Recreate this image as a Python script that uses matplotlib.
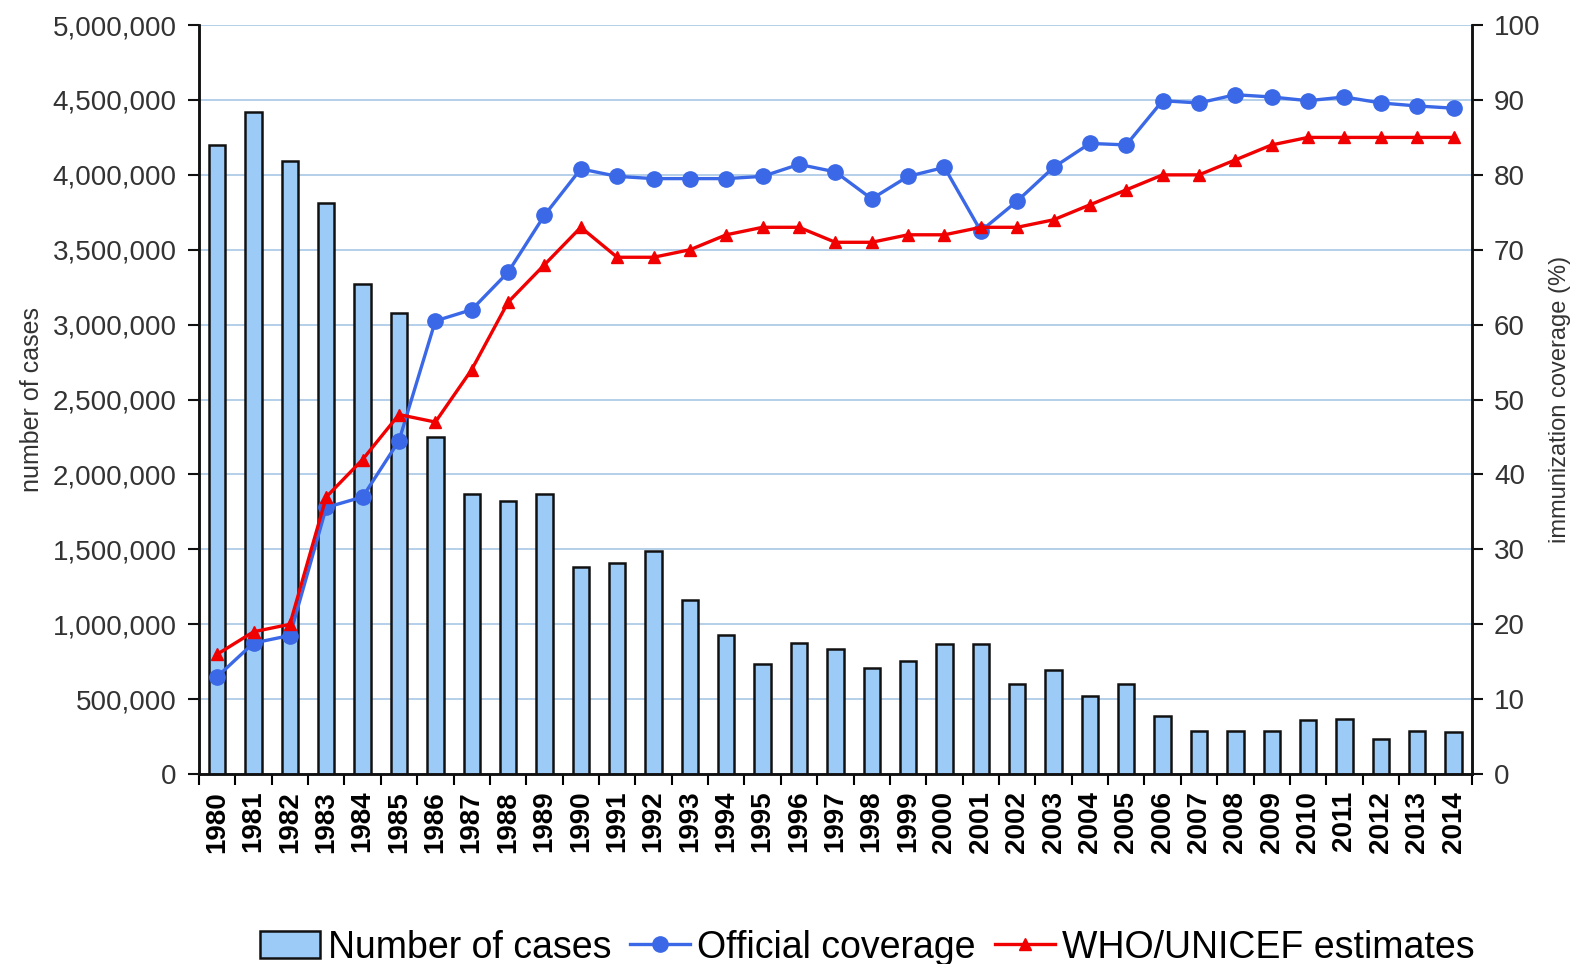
import matplotlib.pyplot as plt
from matplotlib.ticker import FuncFormatter, FixedLocator
import numpy as np

plt.rcParams['font.family'] = ['Liberation Sans', 'DejaVu Sans']

years = [str(y) for y in range(1980, 2015)]
cases = [4200000, 4420000, 4090000, 3810000, 3270000, 3080000, 2250000, 1870000,
         1820000, 1870000, 1380000, 1410000, 1490000, 1160000, 930000, 735000,
         877000, 837000, 708000, 756000, 870000, 870000, 600000, 695000, 520000,
         600000, 385000, 290000, 290000, 290000, 358000, 371000, 236000, 290000,
         280000]
official = [13, 17.5, 18.5, 35.6, 37, 44.5, 60.5, 62, 67, 74.6, 80.8, 79.8, 79.5,
            79.5, 79.5, 79.8, 81.4, 80.4, 76.8, 79.8, 81, 72.5, 76.5, 81, 84.2, 84,
            89.9, 89.6, 90.7, 90.4, 89.9, 90.4, 89.6, 89.2, 88.9]
who_unicef = [16, 19, 20, 37, 42, 48, 47, 54, 63, 68, 73, 69, 69, 70, 72, 73, 73,
              71, 71, 72, 72, 73, 73, 74, 76, 78, 80, 80, 82, 84, 85, 85, 85, 85, 85]

x = np.arange(len(years))

fig = plt.figure(figsize=(15.83, 9.64), dpi=100)
ax = fig.add_axes([0.1257, 0.197, 0.804, 0.777])
ax2 = ax.twinx()

bars = ax.bar(x, cases, width=0.45, color='#9DCBF7', edgecolor='#111111',
              linewidth=1.8, zorder=3, label='Number of cases')
ax.set_xlim(-0.5, len(years) - 0.5)
ax.set_ylim(0, 5000000)
ax.set_yticks(np.arange(0, 5000001, 500000))
ax.yaxis.set_major_formatter(FuncFormatter(lambda v, p: f'{v:,.0f}'))
ax.grid(axis='y', color='#B0CCE8', linewidth=1.3, zorder=0)
ax.set_axisbelow(True)

# year labels centred on bars, tick marks between categories
ax.set_xticks(x)
ax.set_xticklabels(years, rotation=90, fontweight='bold', fontsize=20)
ax.tick_params(axis='x', length=0, pad=12)
ax.xaxis.set_minor_locator(FixedLocator(np.arange(-0.5, len(years), 1)))
ax.tick_params(axis='x', which='minor', length=8, width=1.5, direction='out')
ax.tick_params(axis='y', labelsize=20, length=8, width=1.5, colors='#111111',
               labelcolor='#333333', pad=8)
ax.set_ylabel('number of cases', fontsize=18, color='#333333', labelpad=6)

l1, = ax2.plot(x, official, color='#3A68E6', linewidth=2.4, marker='o',
               markersize=11, label='Official coverage', zorder=4)
l2, = ax2.plot(x, who_unicef, color='#F00000', linewidth=2.4, marker='^',
               markersize=9, label='WHO/UNICEF estimates', zorder=5)
ax2.set_ylim(0, 100)
ax2.set_yticks(np.arange(0, 101, 10))
ax2.tick_params(axis='y', labelsize=20, length=8, width=1.5, colors='#111111',
                labelcolor='#333333', pad=8)
ax2.set_ylabel('immunization coverage (%)', fontsize=17, color='#333333',
               labelpad=6)

for a in (ax, ax2):
    a.spines['top'].set_visible(False)
    for s in ('left', 'right', 'bottom'):
        a.spines[s].set_linewidth(1.8)
        a.spines[s].set_color('#111111')

fig.legend(handles=[bars, l1, l2], loc='center', bbox_to_anchor=(0.548, 0.017),
           ncol=3, frameon=False, fontsize=27, handlelength=1.6,
           handletextpad=0.2, columnspacing=0.5, borderaxespad=0)

fig.savefig('out.png', dpi=100)
